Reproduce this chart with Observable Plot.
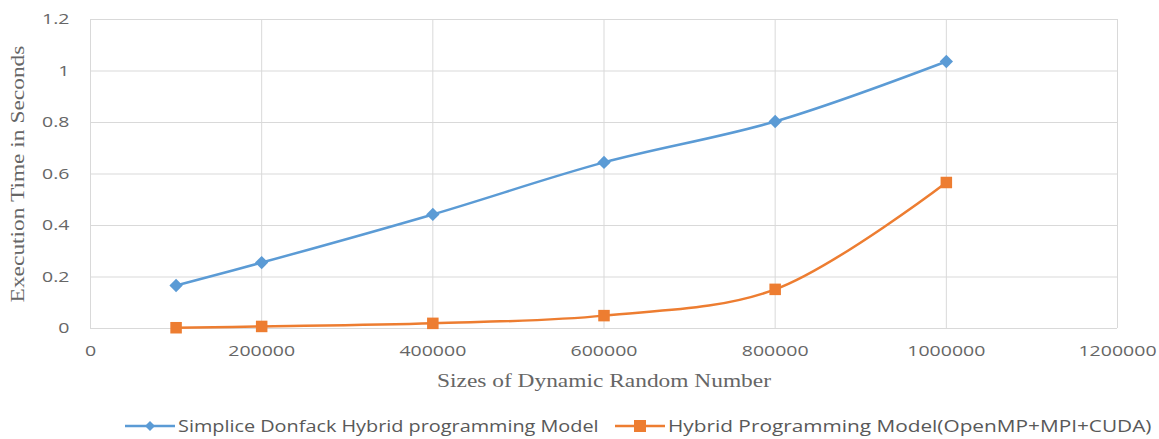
<!DOCTYPE html>
<html>
<head>
<meta charset="utf-8">
<script src="https://cdn.jsdelivr.net/npm/d3@7"></script>
<script src="https://cdn.jsdelivr.net/npm/@observablehq/plot@0.6"></script>
<style>
  html, body { margin: 0; padding: 0; background: #fff; }
  #chart { width: 1159px; }
  #legend { position: relative; height: 29px; width: 1159px; font-family: "Open Sans", "Liberation Sans", sans-serif; font-size: 16px; color: #595959; }
  .item { position: absolute; top: 3px; display: flex; align-items: center; height: 26px; white-space: nowrap; }
  .item svg { margin-right: 3px; flex: none; }
  .item span { display: inline-block; transform-origin: left center; }
</style>
</head>
<body>
<div id="chart"></div>
<div id="legend"></div>
<script>
const sizes = [100000, 200000, 400000, 600000, 800000, 1000000];
const simpliceTimes = [0.167, 0.256, 0.443, 0.645, 0.804, 1.037];
const hybridTimes = [0.003, 0.008, 0.02, 0.05, 0.152, 0.567];
const seriesNames = ["Simplice Donfack Hybrid programming Model", "Hybrid Programming Model(OpenMP+MPI+CUDA)"];
const seriesColors = ["#5B9BD5", "#ED7D31"];
const xTicks = [0, 200000, 400000, 600000, 800000, 1000000, 1200000];
const yTicks = [0, 0.2, 0.4, 0.6, 0.8, 1, 1.2];
const xTitle = "Sizes of Dynamic Random Number";
const yTitle = "Execution Time in Seconds";

const blue = sizes.map((s, i) => ({x: s, y: simpliceTimes[i]}));
const orange = sizes.map((s, i) => ({x: s, y: hybridTimes[i]}));

const chart = Plot.plot({
  width: 1159,
  height: 410,
  marginLeft: 90,
  marginRight: 42,
  marginTop: 19,
  marginBottom: 82,
  style: {fontFamily: "'Open Sans', 'Liberation Sans', sans-serif", fontSize: "15px", color: "#595959", background: "#fff"},
  x: {domain: [0, 1200000]},
  y: {domain: [0, 1.2]},
  marks: [
    Plot.gridX(xTicks, {stroke: "#d9d9d9", strokeOpacity: 1, strokeWidth: 1}),
    Plot.gridY(yTicks, {stroke: "#d9d9d9", strokeOpacity: 1, strokeWidth: 1}),
    Plot.axisX(xTicks, {tickSize: 0, tickPadding: 17, label: null, fill: "#666", fontSize: 15, tickFormat: d => String(d)}),
    Plot.axisY(yTicks, {tickSize: 0, tickPadding: 21, label: null, fill: "#666", fontSize: 15, tickFormat: d => String(d)}),
    Plot.text([xTitle], {frameAnchor: "bottom", dy: 58, fontFamily: "'Liberation Serif', serif", fontSize: 18, fill: "#666"}),
    Plot.text([yTitle], {frameAnchor: "left", textAnchor: "middle", dx: -72, rotate: -90, fontFamily: "'Liberation Serif', serif", fontSize: 18, fill: "#666"}),
    Plot.line(blue, {x: "x", y: "y", stroke: seriesColors[0], strokeWidth: 2.5, curve: "catmull-rom"}),
    Plot.line(orange, {x: "x", y: "y", stroke: seriesColors[1], strokeWidth: 2.5, curve: "catmull-rom"}),
    Plot.dot(blue, {x: "x", y: "y", symbol: "diamond2", r: 6, fill: seriesColors[0], stroke: "none"}),
    Plot.dot(orange, {x: "x", y: "y", symbol: "square", r: 6.5, fill: seriesColors[1], stroke: "none"})
  ]
});
document.getElementById("chart").appendChild(chart);

// widen glyphs horizontally to match the reference's wide lettering
chart.querySelectorAll("text").forEach(t => {
  const len = t.getComputedTextLength();
  if (len > 0) {
    t.setAttribute("textLength", (len * 1.3).toFixed(1));
    t.setAttribute("lengthAdjust", "spacingAndGlyphs");
  }
});

const legend = document.getElementById("legend");
const lefts = [125, 615];
const stretch = [1.24, 1.3];
const shapes = [
  c => `<polygon points="25,4 30,9 25,14 20,9" fill="${c}"/>`,
  c => `<rect x="19" y="3" width="12" height="12" fill="${c}"/>`
];
seriesNames.forEach((name, i) => {
  const el = document.createElement("div");
  el.className = "item";
  el.style.left = lefts[i] + "px";
  el.innerHTML = `<svg width="50" height="18"><line x1="0" y1="9" x2="50" y2="9" stroke="${seriesColors[i]}" stroke-width="2.5"/>${shapes[i](seriesColors[i])}</svg><span style="transform: scaleX(${stretch[i]})">${name}</span>`;
  legend.appendChild(el);
});
</script>
</body>
</html>
